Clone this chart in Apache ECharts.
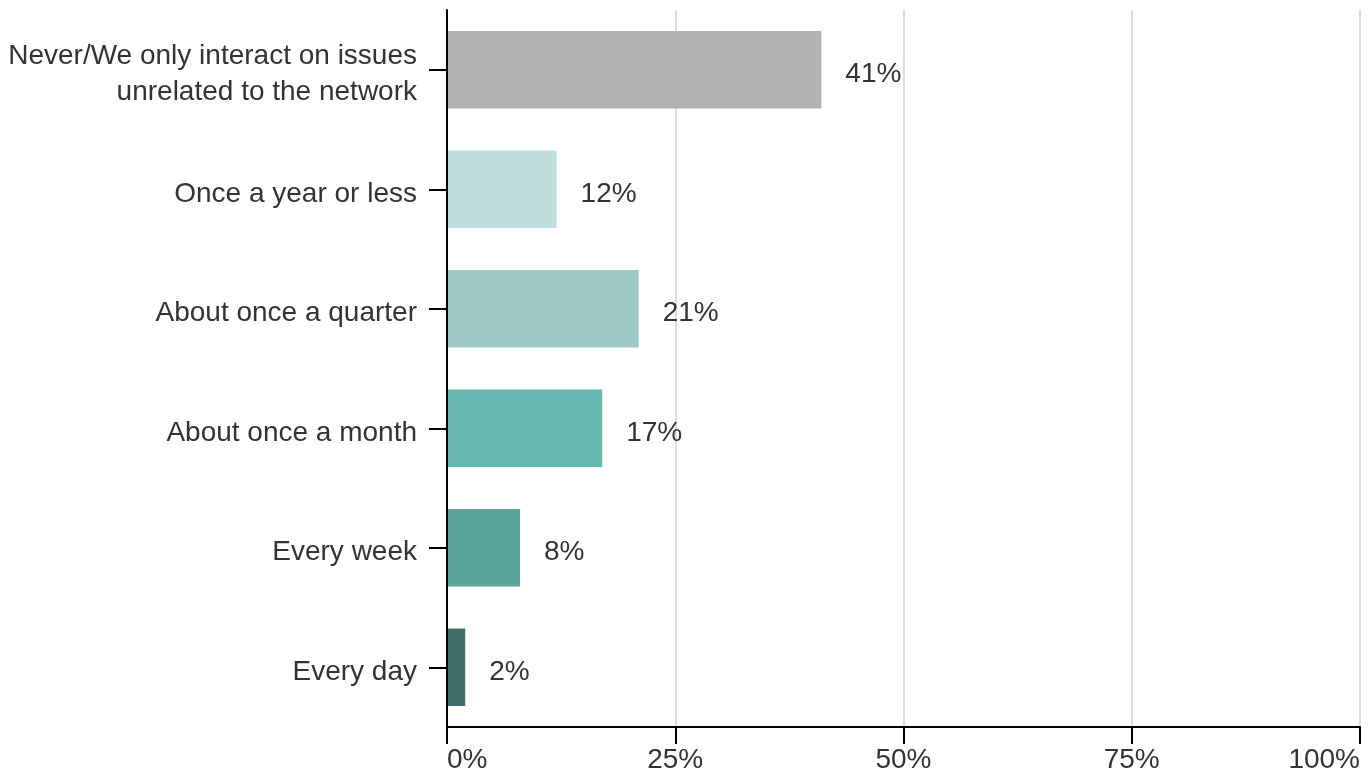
<!DOCTYPE html>
<html>
<head>
<meta charset="utf-8">
<script src="https://cdn.jsdelivr.net/npm/echarts@6/dist/echarts.min.js"></script>
<style>
  html, body { margin: 0; padding: 0; background: #fff; }
  #chart { width: 1370px; height: 774px; }
</style>
</head>
<body>
<div id="chart"></div>
<script>
  // categories top to bottom
  var categories = [
    'Never/We only interact on issues\nunrelated to the network',
    'Once a year or less',
    'About once a quarter',
    'About once a month',
    'Every week',
    'Every day'
  ];
  var values = [41, 12, 21, 17, 8, 2];
  var barColors = ['#b1b1b2', '#bfdedb', '#9ecac6', '#66b7b0', '#5aa39d', '#3d6e6a'];
  var xTicks = [0, 25, 50, 75, 100];

  var chart = echarts.init(document.getElementById('chart'));
  chart.setOption({
    animation: false,
    textStyle: { fontFamily: 'Liberation Sans, Arial, sans-serif' },
    grid: { left: 447, right: 10, top: 10, bottom: 46, containLabel: false },
    xAxis: {
      type: 'value',
      min: xTicks[0],
      max: xTicks[xTicks.length - 1],
      interval: 25,
      axisLine: { show: true, lineStyle: { color: '#000', width: 2 } },
      axisTick: { show: true, length: 17, lineStyle: { color: '#000', width: 2 } },
      splitLine: { show: true, lineStyle: { color: '#dddddd', width: 2 } },
      axisLabel: {
        formatter: '{value}%',
        color: '#333',
        fontSize: 28,
        margin: 19,
        alignMinLabel: 'left',
        alignMaxLabel: 'right'
      }
    },
    yAxis: {
      type: 'category',
      inverse: true,
      data: categories,
      z: 5,
      axisLine: { show: true, lineStyle: { color: '#000', width: 2 } },
      axisTick: { show: true, alignWithLabel: true, length: 18, lineStyle: { color: '#000', width: 2 } },
      axisLabel: {
        color: '#333', fontSize: 28, margin: 30, align: 'right',
        formatter: function (v) {
          return v.split('\n').map(function (s) { return '{t|' + s + '}'; }).join('\n');
        },
        rich: { t: { color: '#333', fontSize: 28, lineHeight: 36, padding: [10, 0, 0, 0] } }
      }
    },
    series: [{
      type: 'bar',
      barWidth: '65%',
      data: values.map(function (v, i) {
        return { value: v, itemStyle: { color: barColors[i] } };
      }),
      label: {
        show: true,
        position: 'right',
        distance: 24,
        offset: [0, 5],
        formatter: '{c}%',
        color: '#333',
        fontSize: 28
      }
    }]
  });
</script>
</body>
</html>
